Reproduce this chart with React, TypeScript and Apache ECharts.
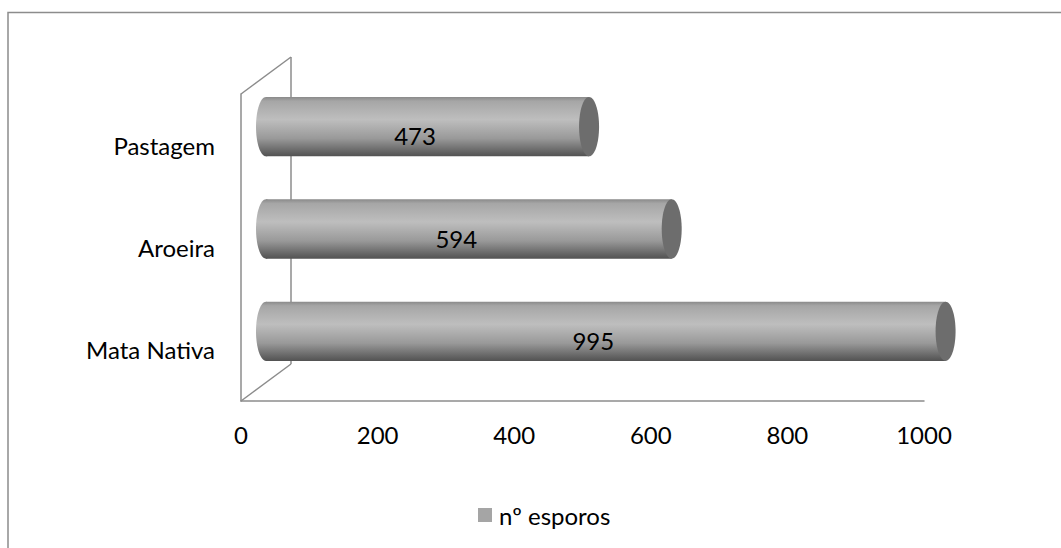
import React, { useEffect, useRef } from "react";
import * as echarts from "echarts";

const categories = ["Mata Nativa", "Aroeira", "Pastagem"];
const values = [995, 594, 473];
const seriesName = "nº esporos";
const axisMin = 0;
const axisMax = 1000;
const axisInterval = 200;

const GRID_LEFT = 241;
const GRID_RIGHT_X = 924;
const GRID_TOP = 94;
const GRID_BOTTOM_Y = 401;
const DEPTH_X = 50;
const DEPTH_Y = -37;
const FONT = "Lato, 'Open Sans', sans-serif";
const FS = 24;
const LINE = "#8c8c8c";

export default function App() {
  const ref = useRef<HTMLDivElement>(null);
  useEffect(() => {
    if (!ref.current) return;
    const chart = echarts.init(ref.current, null, { renderer: "svg" });
    const grad = () =>
      new echarts.graphic.LinearGradient(0, 0, 0, 1, [
        { offset: 0, color: "#8a8a8a" },
        { offset: 0.07, color: "#a6a6a6" },
        { offset: 0.38, color: "#bebebe" },
        { offset: 0.7, color: "#999999" },
        { offset: 0.93, color: "#626262" },
        { offset: 1, color: "#525252" },
      ]);
    const option: any = {
      animation: false,
      backgroundColor: "#ffffff",
      grid: {
        left: GRID_LEFT,
        right: 1061 - GRID_RIGHT_X,
        top: GRID_TOP,
        bottom: 548 - GRID_BOTTOM_Y,
        containLabel: false,
      },
      xAxis: {
        type: "value",
        min: axisMin,
        max: axisMax,
        interval: axisInterval,
        axisLine: { show: true, lineStyle: { color: LINE, width: 1.5 } },
        axisTick: { show: false },
        splitLine: { show: false },
        axisLabel: {
          color: "#000",
          fontSize: FS,
          fontFamily: FONT,
          margin: 21,
          formatter: (v: number) => String(v),
        },
      },
      yAxis: {
        type: "category",
        data: categories,
        axisLine: { show: true, lineStyle: { color: LINE, width: 1.5 } },
        axisTick: { show: false },
        axisLabel: { color: "#000", fontSize: FS, fontFamily: FONT, margin: 26 },
      },
      legend: {
        data: [seriesName],
        left: 478,
        top: 503,
        padding: 0,
        icon: "rect",
        itemWidth: 14,
        itemHeight: 14,
        textStyle: { color: "#000", fontSize: FS, fontFamily: FONT, padding: [0, 0, 0, 2] },
      },
      graphic: [
        {
          type: "rect",
          z: 0,
          shape: { x: 8, y: 12.5, width: 1200, height: 700 },
          style: { fill: "none", stroke: LINE, lineWidth: 1.5 },
        },
        {
          type: "line",
          z: 1,
          shape: { x1: GRID_LEFT + DEPTH_X, y1: GRID_TOP + DEPTH_Y, x2: GRID_LEFT + DEPTH_X, y2: GRID_BOTTOM_Y + DEPTH_Y },
          style: { stroke: LINE, lineWidth: 1.5 },
        },
        {
          type: "line",
          z: 1,
          shape: { x1: GRID_LEFT, y1: GRID_TOP, x2: GRID_LEFT + DEPTH_X, y2: GRID_TOP + DEPTH_Y },
          style: { stroke: LINE, lineWidth: 1.5 },
        },
        {
          type: "line",
          z: 1,
          shape: { x1: GRID_LEFT, y1: GRID_BOTTOM_Y, x2: GRID_LEFT + DEPTH_X, y2: GRID_BOTTOM_Y + DEPTH_Y },
          style: { stroke: LINE, lineWidth: 1.5 },
        },
      ],
      series: [
        {
          name: seriesName,
          type: "custom",
          z: 5,
          itemStyle: { color: "#a5a5a5" },
          encode: { x: 0, y: 1 },
          data: values.map((v, i) => [v, i]),
          renderItem: (params: any, api: any) => {
            const v = api.value(0);
            const ci = api.value(1);
            const p0 = api.coord([0, ci]);
            const pv = api.coord([v, ci]);
            const pm = api.coord([v / 2, ci]);
            const band = api.size([0, 1])[1];
            const ry = band * 0.29;
            const rx = 10;
            const dx = DEPTH_X / 2;
            const dy = DEPTH_Y / 2;
            const x0 = p0[0] + dx;
            const x1 = pv[0] + dx;
            const cy = p0[1] + dy;
            return {
              type: "group",
              children: [
                {
                  type: "ellipse",
                  shape: { cx: x0, cy, rx, ry },
                  style: { fill: grad() },
                },
                {
                  type: "rect",
                  shape: { x: x0, y: cy - ry, width: x1 - x0, height: ry * 2 },
                  style: { fill: grad() },
                },
                {
                  type: "ellipse",
                  shape: { cx: x1, cy, rx, ry },
                  style: { fill: "#6d6d6d" },
                },
                {
                  type: "text",
                  style: {
                    text: String(v),
                    x: pm[0] + dx / 2,
                    y: pm[1] + dy / 2,
                    align: "center",
                    verticalAlign: "middle",
                    fill: "#000",
                    fontSize: FS,
                    fontFamily: FONT,
                  },
                },
              ],
            };
          },
        },
      ],
    };
    chart.setOption(option);
    return () => chart.dispose();
  }, []);
  return (
    <div
      ref={ref}
      style={{ position: "fixed", left: 0, top: 0, width: 1061, height: 548, background: "#fff" }}
    />
  );
}
